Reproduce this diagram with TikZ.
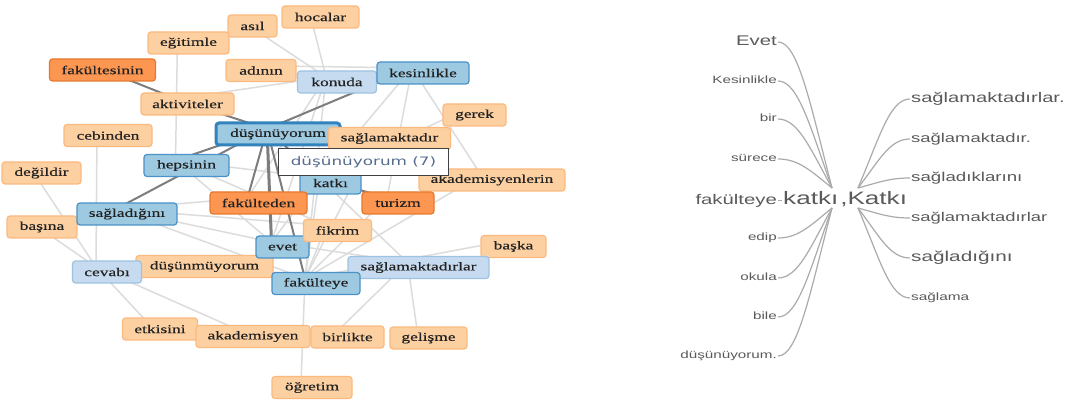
\documentclass[tikz,border=0pt]{standalone}
\usepackage{fontspec}
\newfontfamily\netfont[FakeStretch=1.45,FakeBold=0.4]{Liberation Serif}
\newfontfamily\tipfont[FakeStretch=1.45]{DejaVu Sans}
\newfontfamily\treefont[FakeStretch=1.45]{Liberation Sans}
\definecolor{loF}{HTML}{FDD0A2}
\definecolor{loD}{HTML}{FBB97E}
\definecolor{doF}{HTML}{FD9650}
\definecolor{doD}{HTML}{E6782E}
\definecolor{bmF}{HTML}{9ECAE1}
\definecolor{bmD}{HTML}{4B92C8}
\definecolor{blF}{HTML}{C6DBEF}
\definecolor{blD}{HTML}{9DC3E3}
\definecolor{bdD}{HTML}{3182BD}
\definecolor{netText}{HTML}{222222}
\definecolor{darkE}{HTML}{7D7D7D}
\definecolor{lightE}{HTML}{DCDCDC}
\definecolor{tipText}{HTML}{556B8D}
\definecolor{treeText}{HTML}{5A5A5A}
\definecolor{treeLine}{HTML}{ABABAB}
\pgfdeclarelayer{edgelayer}
\pgfsetlayers{edgelayer,main}
\tikzset{
  box/.style={rounded corners=3pt, line width=1.2pt, inner sep=0pt, minimum height=22pt,
    text=netText, font=\netfont\fontsize{12}{14}\selectfont},
  orl/.style={box, fill=loF, draw=loD},
  ord/.style={box, fill=doF, draw=doD},
  blm/.style={box, fill=bmF, draw=bmD},
  bll/.style={box, fill=blF, draw=blD},
  strong/.style={draw=darkE, line width=2pt},
  weak/.style={draw=lightE, line width=1.5pt},
  wt/.style={font=\treefont\fontsize{#1}{#1}\selectfont, text=treeText, inner sep=0pt},
  tl/.style={draw=treeLine, line width=1.2pt},
}
\newcommand\lnk[3]{\draw[#1] ([xshift=-11pt,yshift=5pt]#2.center) -- ([xshift=-11pt,yshift=5pt]#3.center);}
\begin{document}
\begin{tikzpicture}[x=1pt,y=-1pt]
\useasboundingbox (0,0) rectangle (1068,403);
\begin{pgfonlayer}{edgelayer}
\fill[white] (0,0) rectangle (1068,403);
\end{pgfonlayer}
% ---------- network nodes ----------
\node[orl, minimum width=49pt] (asil) at (252.5,26) {asıl};
\node[orl, minimum width=77pt] (hocalar) at (320.5,17) {hocalar};
\node[orl, minimum width=81pt] (egitimle) at (188.5,43) {eğitimle};
\node[ord, minimum width=106pt] (fakultesinin) at (102.5,70) {fakültesinin};
\node[orl, minimum width=70pt] (adinin) at (261,70.5) {adının};
\node[bll, minimum width=79pt] (konuda) at (337,82) {konuda};
\node[blm, minimum width=92pt] (kesinlikle) at (423,73) {kesinlikle};
\node[orl, minimum width=93pt] (aktiviteler) at (187.5,104) {aktiviteler};
\node[orl, minimum width=63pt] (gerek) at (474.5,115) {gerek};
\node[orl, minimum width=88pt] (cebinden) at (108,135.5) {cebinden};
\node[blm, draw=bdD, line width=3pt, minimum width=124pt, minimum height=22pt] (dus) at (278,134) {düşünüyorum};
\node[orl, minimum width=122pt] (saglamaktadir) at (389.5,138.5) {sağlamaktadır};
\node[blm, minimum width=85pt] (hepsinin) at (186.5,165.5) {hepsinin};
\node[orl, minimum width=79pt] (degildir) at (41.5,173) {değildir};
\node[blm, minimum width=61pt] (katki) at (330.5,183) {katkı};
\node[orl, minimum width=146pt] (akadlerin) at (492,180) {akademisyenlerin};
\node[ord, minimum width=97pt] (fakulteden) at (258.5,203) {fakülteden};
\node[ord, minimum width=72pt] (turizm) at (398,203) {turizm};
\node[orl, minimum width=70pt] (basina) at (42,227) {başına};
\node[blm, minimum width=100pt] (sagladigini) at (127,214) {sağladığını};
\node[orl, minimum width=137pt] (dusunmuyorum) at (204.5,266.5) {düşünmüyorum};
\node[bll, minimum width=69pt] (cevabi) at (107,272) {cevabı};
\node[blm, minimum width=53pt] (evet) at (282.5,247) {evet};
\node[orl, minimum width=68pt] (fikrim) at (337.5,230.5) {fikrim};
\node[orl, minimum width=65pt] (baska) at (513.5,246.5) {başka};
\node[bll, minimum width=141pt] (saglamaktadirlar) at (418.5,267.5) {sağlamaktadırlar};
\node[blm, minimum width=88pt] (fakulteye) at (316,283.5) {fakülteye};
\node[orl, minimum width=75pt] (etkisini) at (160,329) {etkisini};
\node[orl, minimum width=114pt] (akademisyen) at (253,336.5) {akademisyen};
\node[orl, minimum width=73pt] (birlikte) at (347.5,337) {birlikte};
\node[orl, minimum width=77pt] (gelisme) at (428.5,338) {gelişme};
\node[orl, minimum width=80pt] (ogretim) at (312,387.5) {öğretim};
\node[draw=black!75, line width=1pt, fill=white, minimum width=170pt, minimum height=27pt, inner sep=0pt,
  text=tipText, font=\tipfont\fontsize{11.6}{13}\selectfont] (tip) at (363.5,162.5) {düşünüyorum (7)};
% ---------- network edges ----------
\begin{pgfonlayer}{edgelayer}
\lnk{weak}{egitimle}{hepsinin}
\lnk{weak}{asil}{konuda}
\lnk{weak}{hocalar}{konuda}
\lnk{weak}{aktiviteler}{konuda}
\lnk{weak}{adinin}{kesinlikle}
\lnk{weak}{kesinlikle}{katki}
\lnk{weak}{kesinlikle}{turizm}
\lnk{weak}{kesinlikle}{akadlerin}
\lnk{weak}{konuda}{evet}
\lnk{weak}{konuda}{fakulteye}
\lnk{weak}{konuda}{fakulteden}
\lnk{weak}{gerek}{katki}
\lnk{weak}{cebinden}{cevabi}
\lnk{weak}{degildir}{cevabi}
\lnk{weak}{basina}{cevabi}
\lnk{weak}{cevabi}{etkisini}
\lnk{weak}{cevabi}{akademisyen}
\lnk{weak}{sagladigini}{fakulteden}
\lnk{weak}{sagladigini}{evet}
\lnk{weak}{sagladigini}{fakulteye}
\lnk{weak}{sagladigini}{fikrim}
\lnk{weak}{hepsinin}{katki}
\lnk{weak}{hepsinin}{fikrim}
\lnk{weak}{hepsinin}{evet}
\lnk{weak}{katki}{fakulteye}
\lnk{weak}{katki}{evet}
\lnk{weak}{katki}{saglamaktadirlar}
\lnk{weak}{fikrim}{fakulteye}
\lnk{weak}{dusunmuyorum}{fakulteye}
\lnk{weak}{fakulteye}{baska}
\lnk{weak}{evet}{saglamaktadirlar}
\lnk{weak}{saglamaktadirlar}{birlikte}
\lnk{weak}{saglamaktadirlar}{gelisme}
\lnk{weak}{fakulteye}{ogretim}
\lnk{weak}{turizm}{fakulteye}
\lnk{weak}{akadlerin}{fakulteye}
\lnk{weak}{saglamaktadir}{fakulteye}
\lnk{strong}{fakultesinin}{aktiviteler}
\lnk{strong}{aktiviteler}{dus}
\lnk{strong}{kesinlikle}{dus}
\lnk{strong}{dus}{hepsinin}
\lnk{strong}{dus}{sagladigini}
\lnk{strong}{dus}{fakulteden}
\lnk{strong, line width=3pt}{dus}{evet}
\lnk{strong}{dus}{fakulteye}
\lnk{strong}{dus}{katki}
\lnk{strong}{katki}{turizm}
\end{pgfonlayer}
% ---------- word tree ----------
\node[wt=18, anchor=base west] (root) at (783,205) {{\spaceskip=2pt\relax katkı ,Katkı}};
\coordinate (JLu) at (832,188);
\coordinate (JLd) at (832,208);
\coordinate (JRu) at (858,188);
\coordinate (JRd) at (858,208);
\node[wt=14, anchor=base east] (wEvet) at (777,45.6) {Evet};
\node[wt=10.5, anchor=base east] (wKes) at (777,83.7) {Kesinlikle};
\node[wt=10.5, anchor=base east] (wBir) at (777,121.7) {bir};
\node[wt=10.5, anchor=base east] (wSur) at (777,161.7) {sürece};
\node[wt=14, anchor=base east] (wFak) at (777,205) {fakülteye};
\node[wt=10.5, anchor=base east] (wEdip) at (777,240.7) {edip};
\node[wt=10.5, anchor=base east] (wOkula) at (777,280.7) {okula};
\node[wt=10.5, anchor=base east] (wBile) at (777,319.7) {bile};
\node[wt=10.5, anchor=base east] (wDus) at (777,358.7) {düşünüyorum.};
\node[wt=13.9, anchor=base west] (rA) at (911,102.6) {sağlamaktadırlar.};
\node[wt=12.7, anchor=base west] (rB) at (911,142.3) {sağlamaktadır.};
\node[wt=12.9, anchor=base west] (rC) at (911,181.4) {sağladıklarını};
\node[wt=12.7, anchor=base west] (rD) at (911,221.3) {sağlamaktadırlar};
\node[wt=14.3, anchor=base west] (rE) at (911,261.7) {sağladığını};
\node[wt=10.6, anchor=base west] (rF) at (911,300.8) {sağlama};
\draw[tl] ([xshift=1pt,yshift=3.6pt]wEvet.base east) .. controls +(20,0) and +(-22,-85) .. (JLu);
\draw[tl] ([xshift=1pt,yshift=2.7pt]wKes.base east) .. controls +(20,0) and +(-22,-62) .. (JLu);
\draw[tl] ([xshift=1pt,yshift=2.7pt]wBir.base east) .. controls +(20,0) and +(-22,-40) .. (JLu);
\draw[tl] ([xshift=1pt,yshift=2.7pt]wSur.base east) .. controls +(20,0) and +(-22,-18) .. (JLu);
\draw[tl] ([xshift=1pt,yshift=4.5pt]wFak.base east) -- ([xshift=-1pt,yshift=4.5pt]root.base west);
\draw[tl] ([xshift=1pt,yshift=2.7pt]wEdip.base east) .. controls +(20,0) and +(-22,18) .. (JLd);
\draw[tl] ([xshift=1pt,yshift=2.7pt]wOkula.base east) .. controls +(20,0) and +(-22,40) .. (JLd);
\draw[tl] ([xshift=1pt,yshift=2.7pt]wBile.base east) .. controls +(20,0) and +(-22,62) .. (JLd);
\draw[tl] ([xshift=1pt,yshift=2.7pt]wDus.base east) .. controls +(20,0) and +(-22,85) .. (JLd);
\draw[tl] (JRu) .. controls +(22,-52) and +(-20,0) .. ([xshift=-1pt,yshift=3.6pt]rA.base west);
\draw[tl] (JRu) .. controls +(22,-29) and +(-20,0) .. ([xshift=-1pt,yshift=3.3pt]rB.base west);
\draw[tl] (JRu) .. controls +(22,-6) and +(-20,0) .. ([xshift=-1pt,yshift=3.4pt]rC.base west);
\draw[tl] (JRd) .. controls +(22,6) and +(-20,0) .. ([xshift=-1pt,yshift=3.3pt]rD.base west);
\draw[tl] (JRd) .. controls +(22,29) and +(-20,0) .. ([xshift=-1pt,yshift=3.7pt]rE.base west);
\draw[tl] (JRd) .. controls +(22,52) and +(-20,0) .. ([xshift=-1pt,yshift=2.8pt]rF.base west);
\end{tikzpicture}
\end{document}
